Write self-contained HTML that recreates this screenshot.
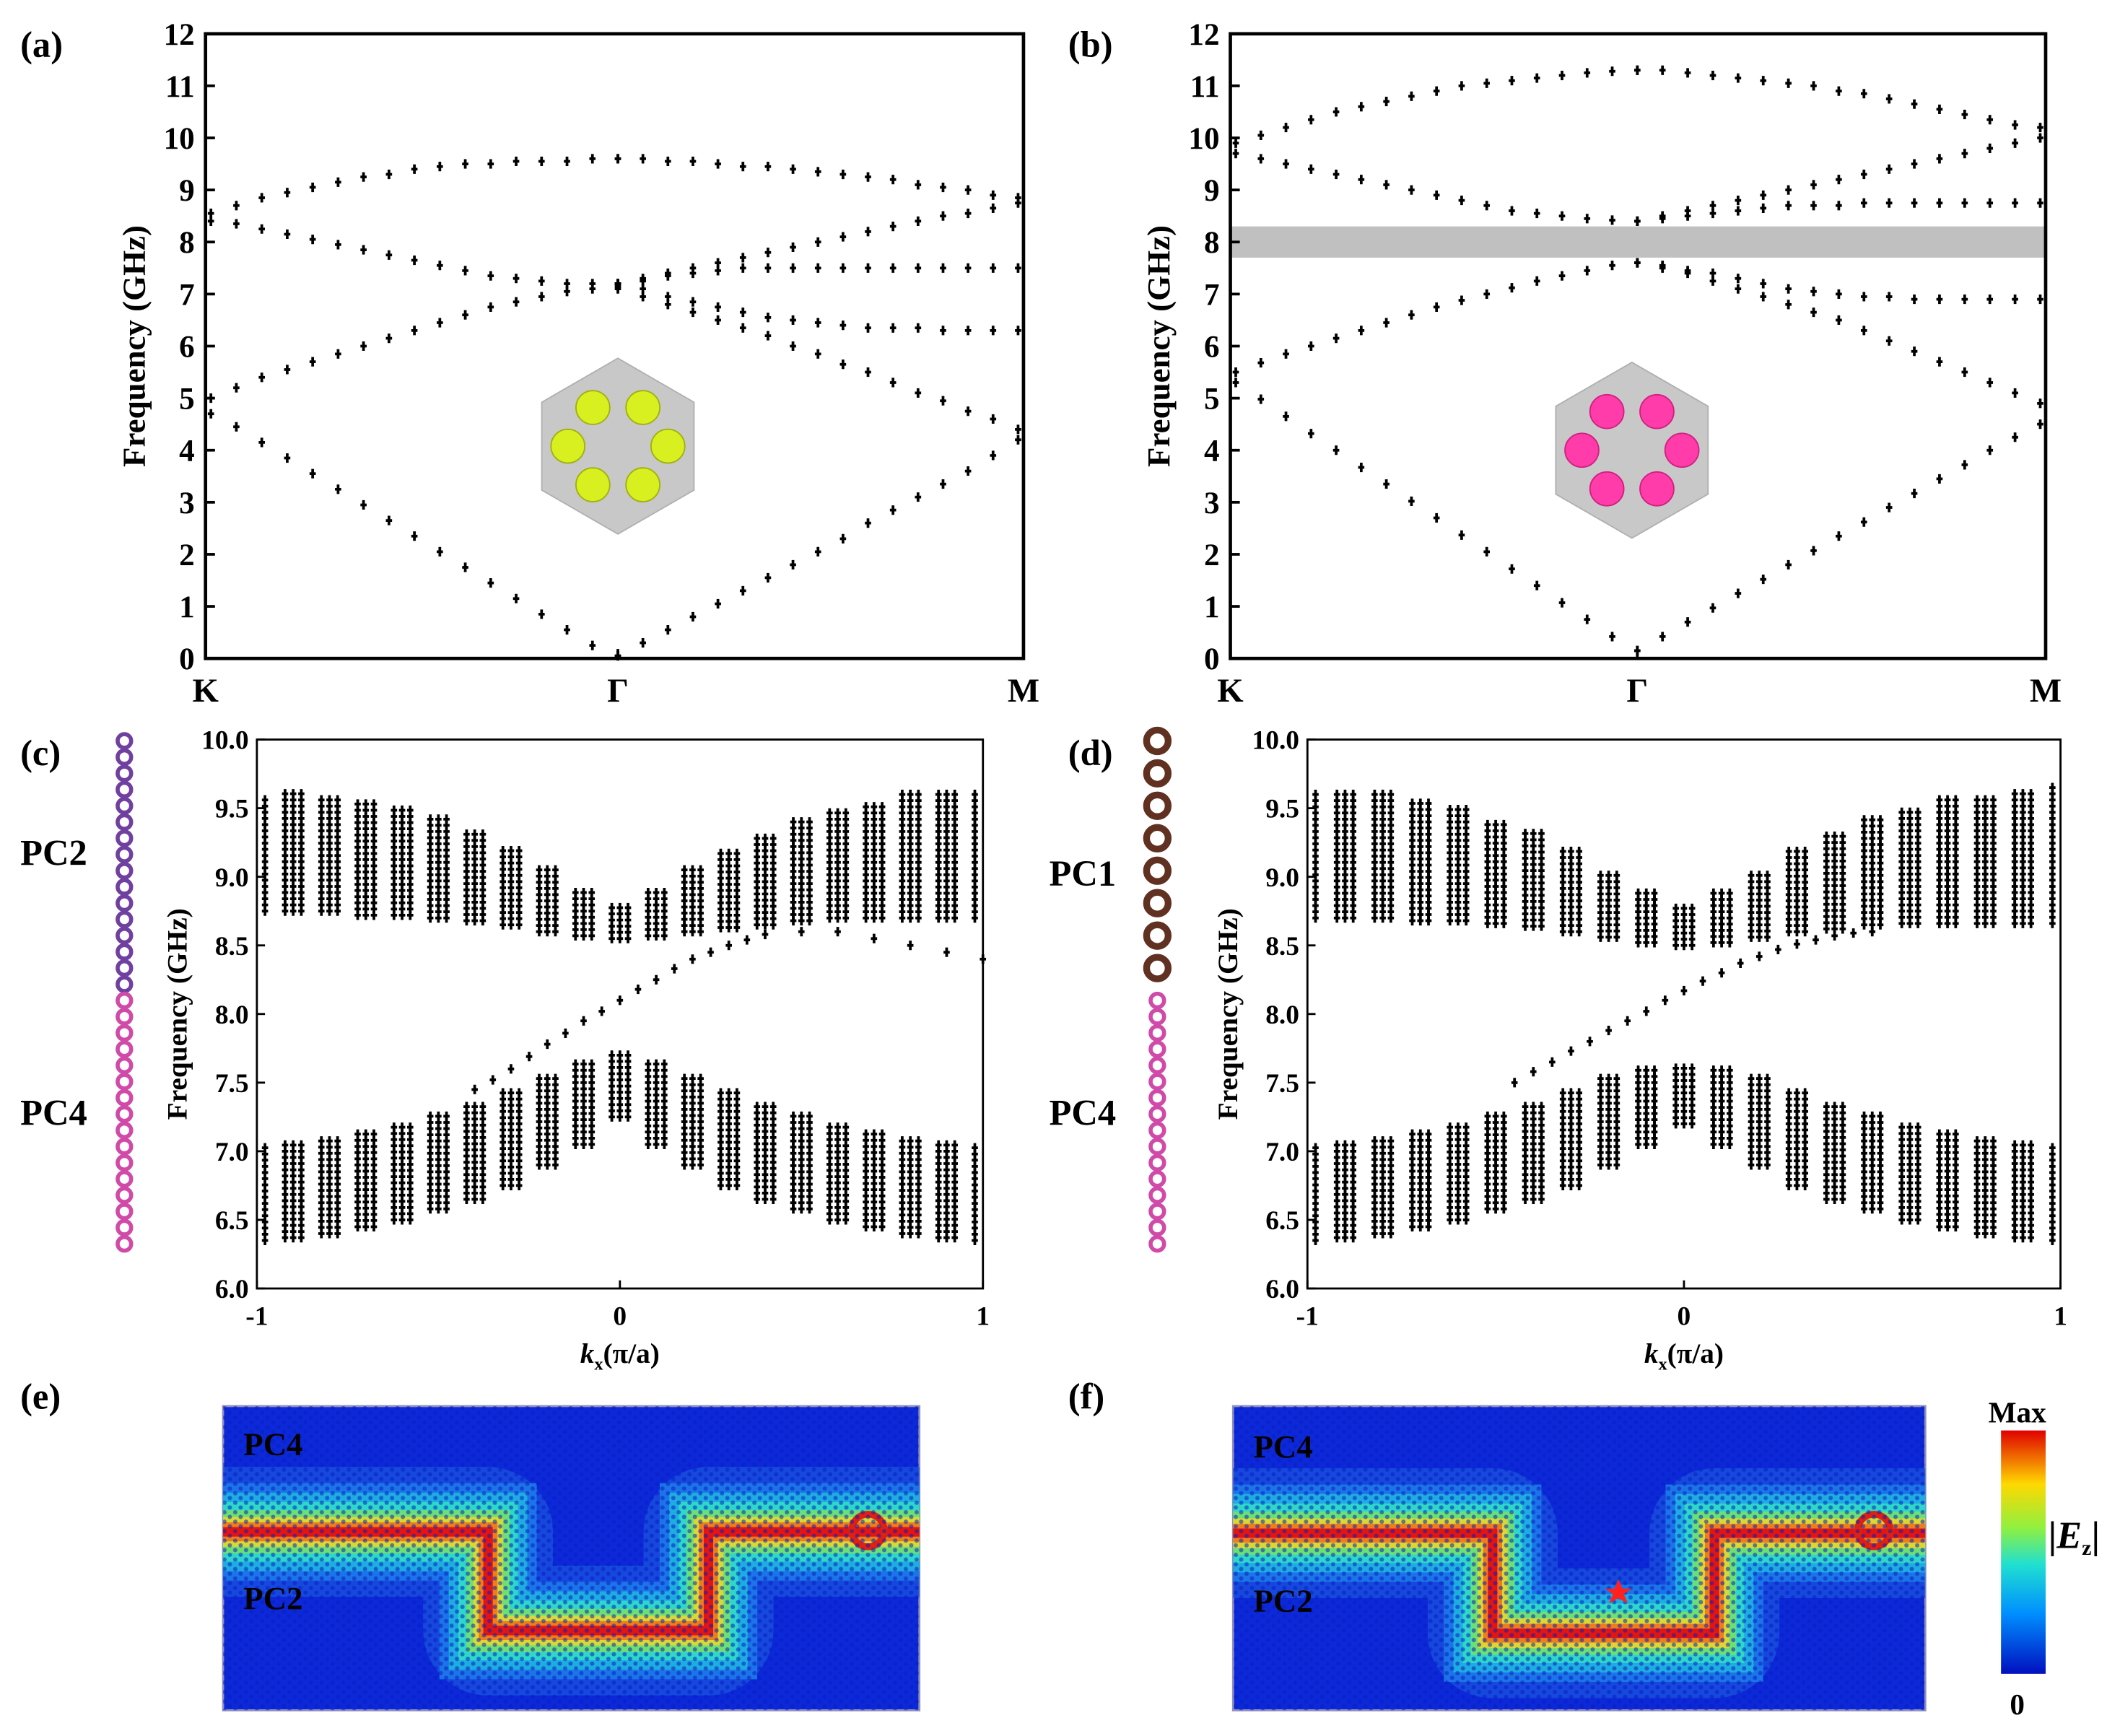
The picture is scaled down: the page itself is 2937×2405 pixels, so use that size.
<!DOCTYPE html>
<html><head><meta charset="utf-8">
<style>
html,body{margin:0;padding:0;background:#fff;}
svg{display:block;}
text{font-family:"Liberation Serif",serif;font-weight:bold;fill:#000;}
</style></head>
<body>
<svg id="fig" width="2937" height="2405" viewBox="0 0 1568 1284" preserveAspectRatio="none" xmlns="http://www.w3.org/2000/svg">
<defs>
<linearGradient id="cbar" x1="0" y1="1" x2="0" y2="0">
<stop offset="0" stop-color="#0010c0"/><stop offset="0.25" stop-color="#0090ff"/><stop offset="0.45" stop-color="#20e0d0"/><stop offset="0.6" stop-color="#90f040"/><stop offset="0.78" stop-color="#ffd800"/><stop offset="1" stop-color="#e00000"/>
</linearGradient>
<pattern id="tex" width="8" height="7" patternUnits="userSpaceOnUse">
<circle cx="2" cy="2" r="1.6" fill="#0820c0" opacity="0.55"/><circle cx="6" cy="5.5" r="1.6" fill="#0820c0" opacity="0.55"/>
</pattern>
</defs>
<g id="root"></g>
</svg>
<script>
// ---------- Panel (a) data: K->Gamma and Gamma->M band values (GHz) ----------
const aKG1=[4.7,4.45,4.15,3.85,3.55,3.25,2.95,2.65,2.35,2.05,1.75,1.45,1.15,0.85,0.55,0.25,0.05];
const aKG2=[5.0,5.2,5.4,5.55,5.7,5.85,6.0,6.15,6.3,6.45,6.6,6.75,6.85,6.95,7.05,7.1,7.15];
const aKG3=[8.4,8.35,8.25,8.15,8.05,7.95,7.85,7.75,7.65,7.55,7.45,7.35,7.3,7.25,7.2,7.2,7.2];
const aKG4=[8.55,8.7,8.85,8.95,9.05,9.15,9.25,9.3,9.4,9.45,9.5,9.5,9.55,9.55,9.55,9.6,9.6];
const aGM1=[0.05,0.3,0.55,0.8,1.05,1.3,1.55,1.8,2.05,2.3,2.6,2.85,3.1,3.35,3.6,3.9,4.2];
const aGM2=[7.1,6.95,6.8,6.65,6.5,6.35,6.2,6.0,5.85,5.65,5.5,5.3,5.1,4.95,4.75,4.6,4.4];
const aGM3=[7.2,7.1,6.95,6.85,6.75,6.65,6.55,6.5,6.45,6.4,6.35,6.35,6.35,6.3,6.3,6.3,6.3];
const aGM4=[7.2,7.25,7.35,7.4,7.45,7.5,7.5,7.5,7.5,7.5,7.5,7.5,7.5,7.5,7.5,7.5,7.5];
const aGM5=[7.2,7.3,7.4,7.5,7.6,7.7,7.8,7.9,8.0,8.1,8.2,8.3,8.4,8.5,8.55,8.65,8.75];
const aGM6=[9.6,9.6,9.55,9.55,9.5,9.45,9.45,9.4,9.35,9.3,9.25,9.2,9.1,9.05,9.0,8.9,8.85];
// ---------- Panel (b) data ----------
const bKG1=[5.3,4.98,4.65,4.32,4.0,3.67,3.35,3.02,2.7,2.37,2.05,1.72,1.4,1.07,0.75,0.42,0.15];
const bKG2=[5.5,5.68,5.85,6.0,6.15,6.3,6.45,6.6,6.75,6.88,7.0,7.12,7.25,7.35,7.45,7.55,7.6];
const bKG3=[9.7,9.6,9.5,9.4,9.3,9.2,9.1,9.0,8.9,8.8,8.7,8.6,8.55,8.5,8.45,8.42,8.4];
const bKG4=[9.9,10.05,10.2,10.35,10.5,10.6,10.7,10.8,10.9,11.0,11.05,11.1,11.15,11.2,11.25,11.28,11.3];
const bGM1=[0.15,0.42,0.7,0.97,1.25,1.52,1.8,2.07,2.35,2.62,2.9,3.17,3.45,3.72,4.0,4.25,4.5];
const bGM2=[7.6,7.55,7.45,7.4,7.3,7.2,7.1,7.05,7.0,6.95,6.95,6.9,6.9,6.9,6.9,6.9,6.9];
const bGM3=[7.6,7.5,7.4,7.25,7.1,6.95,6.8,6.65,6.5,6.3,6.1,5.9,5.7,5.5,5.3,5.1,4.9];
const bGM4=[8.4,8.45,8.5,8.55,8.6,8.65,8.7,8.7,8.7,8.75,8.75,8.75,8.75,8.75,8.75,8.75,8.75];
const bGM5=[8.4,8.5,8.6,8.7,8.8,8.9,9.0,9.1,9.2,9.3,9.4,9.5,9.6,9.7,9.8,9.9,10.0];
const bGM6=[11.3,11.3,11.25,11.2,11.15,11.1,11.05,11.0,10.9,10.85,10.75,10.65,10.55,10.45,10.35,10.25,10.2];
const bGap=[7.7,8.3];
const bandTicks=[0,1,2,3,4,5,6,7,8,9,10,11,12];
const kLabels=["K","Γ","M"];
// ---------- Panel (c),(d) data: projected bands ----------
const kCols=[-1,-0.9,-0.8,-0.7,-0.6,-0.5,-0.4,-0.3,-0.2,-0.1,0,0.1,0.2,0.3,0.4,0.5,0.6,0.7,0.8,0.9,1];
const cUpHi=[9.6,9.62,9.6,9.55,9.5,9.42,9.32,9.2,9.08,8.92,8.78,8.92,9.08,9.2,9.32,9.42,9.5,9.55,9.6,9.62,9.6];
const cUpLo=[8.75,8.75,8.75,8.72,8.72,8.7,8.68,8.65,8.6,8.57,8.55,8.57,8.6,8.63,8.65,8.68,8.7,8.7,8.7,8.7,8.7];
const cLoHi=[7.05,7.07,7.1,7.15,7.2,7.28,7.35,7.45,7.55,7.65,7.7,7.65,7.55,7.45,7.35,7.28,7.2,7.15,7.1,7.07,7.05];
const cLoLo=[6.35,6.37,6.4,6.45,6.5,6.58,6.65,6.75,6.9,7.05,7.25,7.05,6.9,6.75,6.65,6.58,6.5,6.45,6.4,6.37,6.35];
const cEdgeK=[-0.4,-0.35,-0.3,-0.25,-0.2,-0.15,-0.1,-0.05,0,0.05,0.1,0.15,0.2,0.25,0.3,0.35,0.4,0.5,0.6,0.7,0.8,0.9,1.0];
const cEdgeF=[7.45,7.52,7.6,7.69,7.78,7.86,7.95,8.02,8.1,8.18,8.25,8.33,8.4,8.45,8.5,8.54,8.58,8.6,8.6,8.55,8.5,8.45,8.4];
const dUpHi=[9.62,9.62,9.6,9.56,9.5,9.42,9.32,9.2,9.05,8.9,8.8,8.9,9.05,9.2,9.32,9.42,9.5,9.56,9.6,9.62,9.65];
const dUpLo=[8.7,8.7,8.7,8.68,8.68,8.66,8.64,8.6,8.56,8.52,8.5,8.52,8.56,8.6,8.62,8.65,8.66,8.66,8.66,8.66,8.66];
const dLoHi=[7.05,7.07,7.1,7.15,7.2,7.28,7.35,7.45,7.55,7.6,7.62,7.6,7.55,7.45,7.35,7.28,7.2,7.15,7.1,7.07,7.05];
const dLoLo=[6.35,6.37,6.4,6.45,6.5,6.58,6.65,6.75,6.9,7.05,7.2,7.05,6.9,6.75,6.65,6.58,6.5,6.45,6.4,6.37,6.35];
const dEdgeK=[-0.45,-0.4,-0.35,-0.3,-0.25,-0.2,-0.15,-0.1,-0.05,0,0.05,0.1,0.15,0.2,0.25,0.3,0.35,0.4,0.45,0.5];
const dEdgeF=[7.5,7.58,7.65,7.73,7.8,7.88,7.95,8.02,8.1,8.17,8.24,8.3,8.37,8.42,8.47,8.51,8.54,8.57,8.59,8.6];
const projTicks=[6.0,6.5,7.0,7.5,8.0,8.5,9.0,9.5,10.0];
const kxTicks=[-1,0,1];

const NS="http://www.w3.org/2000/svg";
const root=document.getElementById('root');
function el(tag,attrs,parent){const e=document.createElementNS(NS,tag);for(const k in attrs)e.setAttribute(k,attrs[k]);(parent||root).appendChild(e);return e;}
function txt(s,x,y,size,parent,anchor){const t=el('text',{x:x,y:y,'font-size':size,'text-anchor':anchor||'middle'},parent);t.textContent=s;return t;}
function dot(g,x,y){
  const p=el('path',{d:`M${x-1} ${y-3.5}h2v2.5h1.3v2h-1.3v2.5h-2v-2.5h-1.3v-2h1.3z`,fill:'#000'},g);
  
  
}
function label(s,x,y){const t=txt(s,x,y,27,root,'start');}

// ---------- Band-structure panels ----------
function bandPanel(name,x0,x1,xG,y0,y1,kgSets,gmSets,gap){
  const g=el('g',{});  
  const ys=f=>y0+(y1-y0)*(f-0)/12;
  if(gap){const r=el('rect',{x:x0,y:ys(gap[1]),width:x1-x0,height:ys(gap[0])-ys(gap[1]),fill:'#c0c0c0'},g);
    }
  const fr=el('rect',{x:x0,y:y1,width:x1-x0,height:y0-y1,fill:'none',stroke:'#000','stroke-width':2.5},g);
  
  const ax=el('g',{},g);  
  bandTicks.forEach(v=>{const y=ys(v);el('line',{x1:x0,x2:x0+7,y1:y,y2:y,stroke:'#000','stroke-width':2},ax);
    const t=txt(String(v),x0-8,y+8,23,ax,'end');});
  const xa=el('g',{},g);  
  [x0,xG,x1].forEach((x,i)=>{el('line',{x1:x,x2:x,y1:y0,y2:y0-7,stroke:'#000','stroke-width':2},xa);
    const t=txt(kLabels[i],x,y0+32,25,xa);});
  const yt=txt('Frequency (GHz)',0,0,24,g);yt.setAttribute('transform',`translate(${x0-45},${(y0+y1)/2}) rotate(-90)`);
  
  const pts=el('g',{},g);
  kgSets.forEach(arr=>arr.forEach((v,i)=>dot(pts,x0+4+(xG-x0-4)*i/(arr.length-1),ys(v))));
  gmSets.forEach(arr=>arr.forEach((v,i)=>dot(pts,xG+(x1-4-xG)*i/(arr.length-1),ys(v))));
}
bandPanel('band-plot-a',152,757,457,487,25,[aKG1,aKG2,aKG3,aKG4],[aGM1,aGM2,aGM3,aGM4,aGM5,aGM6],null);
bandPanel('band-plot-b',910,1513,1211,487,25,[bKG1,bKG2,bKG3,bKG4],[bGM1,bGM2,bGM3,bGM4,bGM5,bGM6],bGap);
label('(a)',15,42);label('(b)',790,42);label('(c)',15,566);label('(d)',790,566);label('(e)',15,1042);label('(f)',790,1042);

function hexCell(name,cx,cy,color,stroke){
  const g=el('g',{});
  const R=65;let d='';for(let i=0;i<6;i++){const a=Math.PI/180*(60*i-90);d+=(i?'L':'M')+(cx+R*Math.cos(a))+' '+(cy+R*Math.sin(a));}
  el('path',{d:d+'Z',fill:'#c8c8c8',stroke:'#b0b0b0'},g);
  for(let i=0;i<6;i++){const a=Math.PI/180*(60*i);const c=el('circle',{cx:cx+37*Math.cos(a),cy:cy+33*Math.sin(a),r:12.5,fill:color,stroke:stroke,'stroke-width':1},g);
    }
}
hexCell('unit-cell-a',457,330,'#d8f020','#a0b010');
hexCell('unit-cell-b',1207,333,'#ff3caa','#d02080');

// ---------- Projected band panels ----------
function projPanel(name,x0,x1,y0,y1,upHi,upLo,loHi,loLo,eK,eF){
  const g=el('g',{});
  const xs=k=>x0+(x1-x0)*(k+1)/2;
  const ys=f=>y0+(y1-y0)*(f-6)/4;
  const fr=el('rect',{x:x0,y:y1,width:x1-x0,height:y0-y1,fill:'none',stroke:'#000','stroke-width':1.5},g);
  
  const ax=el('g',{},g);
  projTicks.forEach(v=>{const y=ys(v);el('line',{x1:x0,x2:x0+6,y1:y,y2:y,stroke:'#000','stroke-width':1.5},ax);
    const t=txt(v.toFixed(1),x0-6,y+7,20,ax,'end');});
  const xa=el('g',{},g);
  kxTicks.forEach(k=>{const x=xs(k);el('line',{x1:x,x2:x,y1:y0,y2:y0-6,stroke:'#000','stroke-width':1.5},xa);
    const t=txt(String(k),x,y0+27,20,xa);});
  const xt=el('text',{x:(x0+x1)/2,y:y0+55,'font-size':21,'text-anchor':'middle'},g);
  xt.innerHTML='<tspan font-style="italic">k</tspan><tspan font-size="13" dy="5">x</tspan><tspan dy="-5">(π/a)</tspan>';
  
  const yt=txt('Frequency (GHz)',0,0,21,g);yt.setAttribute('transform',`translate(${x0-52},${(y0+y1)/2}) rotate(-90)`);
  
  const pts=el('g',{},g);
  kCols.forEach((k,i)=>{
    [-6,0,6].forEach(off=>{
      let x=xs(k)+off; if(x<x0+6||x>x1-6) return;
      [[upLo[i],upHi[i]],[loLo[i],loHi[i]]].forEach(([lo,hi])=>{
        for(let f=lo;f<=hi+1e-6;f+=0.045){dot(pts,x,ys(f));}
      });
    });
  });
  const ed=el('g',{},g);
  eK.forEach((k,i)=>dot(ed,xs(k),ys(eF[i])));
}
projPanel('projected-bands-c',190,727,953,547,cUpHi,cUpLo,cLoHi,cLoLo,cEdgeK,cEdgeF);
projPanel('projected-bands-d',967,1524,953,547,dUpHi,dUpLo,dLoHi,dLoLo,dEdgeK,dEdgeF);

function strip(name,x,topColor,botColor,bigTop){
  const g=el('g',{});
  for(let y=548;y<=928;y+=bigTop&&y<740?24:12){
    const top=y<740;const r=top&&bigTop?8:5;
    el('circle',{cx:x,cy:y,r:r,fill:'none',stroke:top?topColor:botColor,'stroke-width':top&&bigTop?5:3},g);
  }
}
strip('supercell-c',92,'#7040a0','#d04aa8',false);
strip('supercell-d',856,'#603020','#d04aa8',true);
[['PC2',15,640],['PC4',15,832],['PC1',776,655],['PC4',776,832]].forEach(a=>{const t=txt(a[0],a[1],a[2],27,root,'start');});

// ---------- Field maps ----------
function fieldMap(name,x0,x1,path,src,star){
  const g=el('g',{});
  const cid='clip'+name;const cp=el('clipPath',{id:cid},g);el('rect',{x:x0,y:1040,width:x1-x0,height:225},cp);
  el('rect',{x:x0,y:1040,width:x1-x0,height:225,fill:'#0c28d8',stroke:'#9090c0','stroke-width':1.5},g);
  const inner=el('g',{'clip-path':`url(#${cid})`},g);
  el('path',{d:path,fill:'none',stroke:'#1a50e0','stroke-width':96,'stroke-linejoin':'round',opacity:0.8},inner);
  [[72,'#1c78e8'],[58,'#20b0e0'],[44,'#30d8c8'],[32,'#70e070'],[22,'#e0d830'],[14,'#f07818'],[7,'#e01010']].forEach(([w,c])=>{
    el('path',{d:path,fill:'none',stroke:c,'stroke-width':w,'stroke-linejoin':'miter',opacity:0.95},inner);});
  el('circle',{cx:src[0],cy:src[1],r:12,fill:'none',stroke:'#e02010','stroke-width':5},inner);
  el('rect',{x:x0,y:1040,width:x1-x0,height:225,fill:'url(#tex)'},inner);
  if(star){const s=el('path',{d:star,fill:'#ff2020'},inner);}
}
fieldMap('field-map-e',165,680,'M150 1133 H361 V1206 H524 V1133 H690',[642,1132]);
fieldMap('field-map-f',912,1424,'M900 1134 H1104 V1208 H1268 V1134 H1440',[1386,1132],'M1197 1168 l3 7 h7 l-6 4 l3 7 l-7 -4 l-7 4 l3 -7 l-6 -4 h7z');
[['PC4',180,1076],['PC2',180,1190],['PC4',927,1078],['PC2',927,1192]].forEach(a=>{const t=txt(a[0],a[1],a[2],24,root,'start');});
const cb=el('rect',{x:1480,y:1058,width:33,height:180,fill:'url(#cbar)'});
[['Max',1492,1052],['0',1492,1268]].forEach(a=>{const t=txt(a[0],a[1],a[2],22);});
const ez=el('text',{x:1534,y:1145,'font-size':28,'text-anchor':'middle'});ez.innerHTML='|<tspan font-style="italic">E</tspan><tspan font-size="16" dy="5">z</tspan><tspan dy="-5">|</tspan>';

</script>
</body></html>
